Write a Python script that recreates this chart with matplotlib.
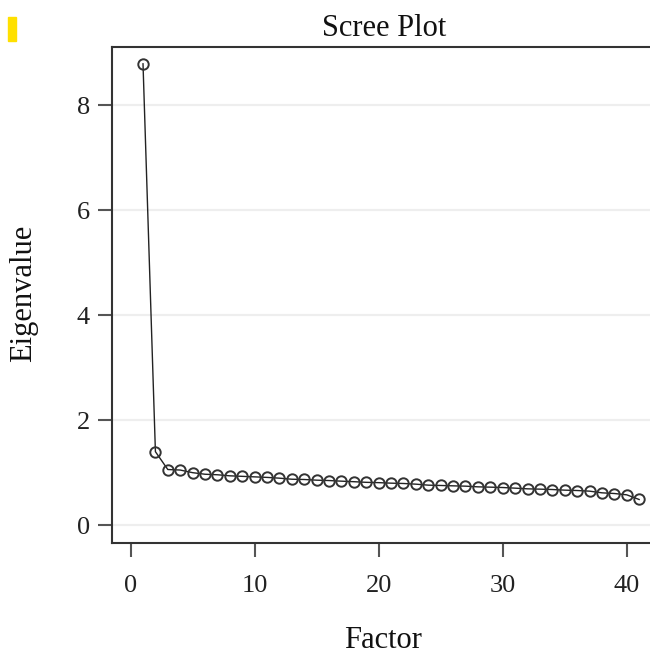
import numpy as np
import matplotlib.pyplot as plt
from matplotlib.patches import Rectangle

# eigenvalues
factor = np.arange(1, 42)
eigenvalue = [8.79, 1.40, 1.06, 1.05, 1.00, 0.97, 0.96, 0.94, 0.93, 0.92,
              0.91, 0.895, 0.875, 0.87, 0.857, 0.85, 0.838, 0.828, 0.816, 0.81,
              0.80, 0.794, 0.781, 0.762, 0.756, 0.749, 0.743, 0.730, 0.724, 0.717,
              0.705, 0.692, 0.686, 0.679, 0.667, 0.660, 0.648, 0.616, 0.603, 0.578,
              0.489]
xticks = [0, 10, 20, 30, 40]
yticks = [0, 2, 4, 6, 8]

plt.rcParams['font.family'] = ['Liberation Serif', 'DejaVu Serif']

W, H = 650, 657
fig = plt.figure(figsize=(W / 100, H / 100), dpi=100)

# axes box: left 112 px, right runs off the image, top 47 px, bottom 543 px
ax = fig.add_axes([112 / W, (H - 543) / H, (W - 112) / W + 0.01, (543 - 47) / H])

ax.plot(factor, eigenvalue, color='#222222', lw=1.0, marker='o', ms=7.5,
        mfc='none', mec='#333333', mew=1.4, zorder=3)

ax.set_xlim(-1.5, 42.4)
ax.set_ylim(-0.34, 9.11)
ax.set_xticks(xticks)
ax.set_yticks(yticks)
ax.yaxis.grid(True, color='#eeeeee', lw=1.6, zorder=0)
ax.set_axisbelow(True)

for side in ['left', 'bottom', 'top']:
    ax.spines[side].set_color('#333333')
    ax.spines[side].set_linewidth(1.5)
ax.spines['right'].set_visible(False)

ax.tick_params(axis='both', direction='out', length=10, width=1.5,
               color='#555555', labelsize=19, labelcolor='#222222')
ax.tick_params(axis='x', pad=13)
ax.tick_params(axis='y', pad=6)

ax.set_title('Scree Plot', fontsize=22, pad=8, color='#111111')
fig.text(24 / W, 1 - 293 / H, 'Eigenvalue', rotation=90, fontsize=22,
         ha='center', va='center', color='#111111')
fig.text(383 / W, 1 - 641 / H, 'Factor', fontsize=22,
         ha='center', va='center', color='#111111')

# small yellow marker in the top-left corner
fig.patches.append(Rectangle((8 / W, 1 - 41 / H), 8 / W, 24 / H,
                             transform=fig.transFigure, color='#ffe000'))

fig.savefig('out.png', dpi=100)
